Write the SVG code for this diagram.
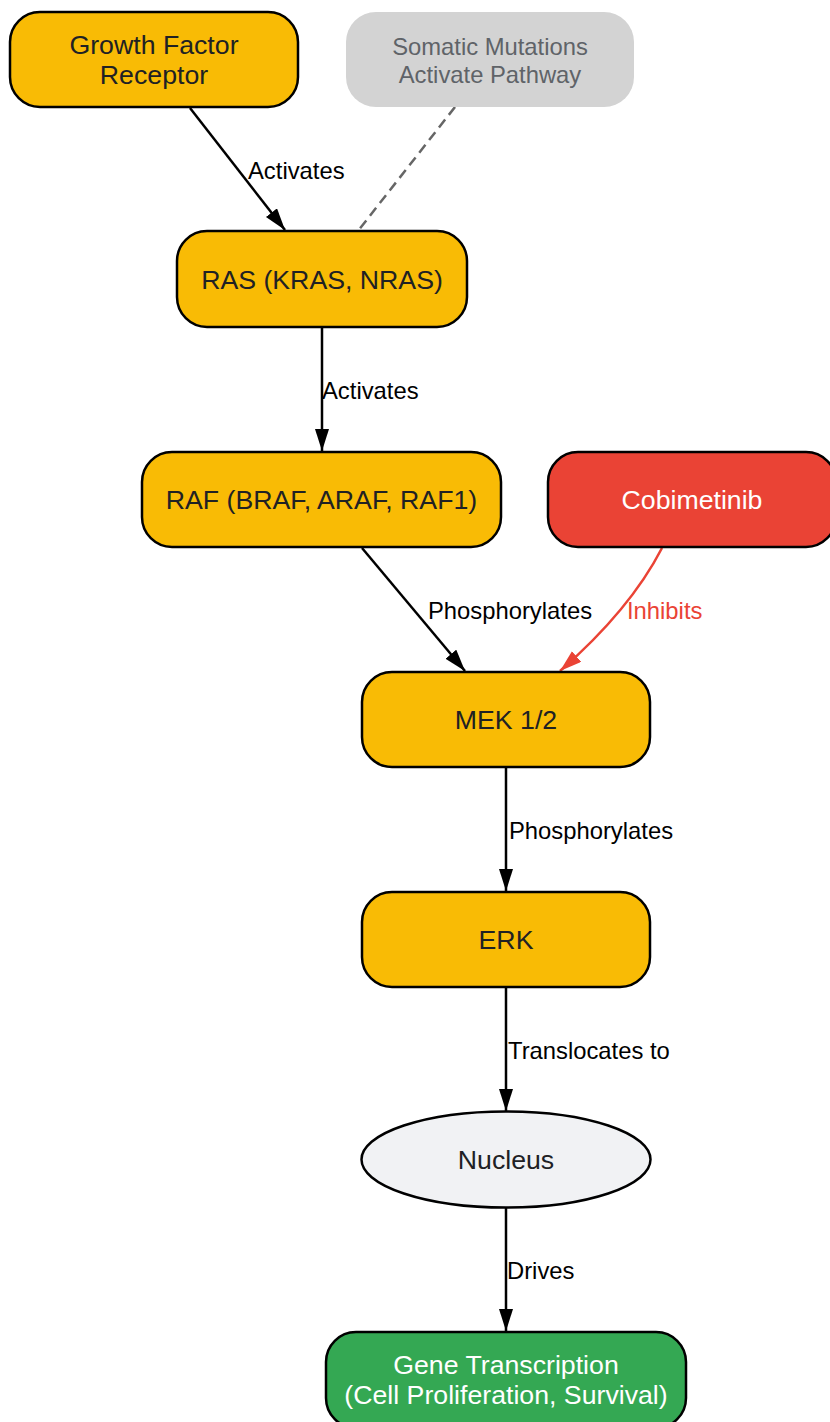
<svg xmlns="http://www.w3.org/2000/svg" width="830" height="1422" viewBox="0 0 830 1422">
<defs>
<style>
.node{stroke:#000;stroke-width:2.5}
.yellow{fill:#f9bb05}
.red{fill:#ea4335}
.green{fill:#34a853}
.gray{fill:#d3d3d3;stroke:none}
.nuc{fill:#f1f2f4}
.nt{font-family:"Liberation Sans",Arial,sans-serif;font-size:26.7px;fill:#202124;text-anchor:middle}
.wt{fill:#ffffff}
.st{font-family:"Liberation Sans",Arial,sans-serif;font-size:23.8px;fill:#5f6368;text-anchor:middle}
.el{font-family:"Liberation Sans",Arial,sans-serif;font-size:23.8px;fill:#000}
.edge{fill:none;stroke:#000;stroke-width:2.5}
.inh{fill:none;stroke:#ea4335;stroke-width:2.5}
.dash{fill:none;stroke:#666;stroke-width:2.5;stroke-dasharray:10,6}
</style>
<marker id="ab" markerUnits="userSpaceOnUse" markerWidth="24" markerHeight="16" refX="22" refY="7" orient="auto">
<path d="M0,0 L22,7 L0,14 z" fill="#000"/>
</marker>
<marker id="ar" markerUnits="userSpaceOnUse" markerWidth="24" markerHeight="16" refX="22" refY="7" orient="auto">
<path d="M0,0 L22,7 L0,14 z" fill="#ea4335"/>
</marker>
</defs>
<rect width="830" height="1422" fill="#ffffff"/>
<g id="connectors">
<path class="edge" d="M190,108 L285,230" marker-end="url(#ab)"/>
<text class="el" x="248" y="179">Activates</text>
<path class="dash" d="M455,107 L358,231"/>
<path class="edge" d="M322,327 L322,451" marker-end="url(#ab)"/>
<text class="el" x="322" y="399">Activates</text>
<path class="edge" d="M362,548 L465,671" marker-end="url(#ab)"/>
<text class="el" x="428" y="619">Phosphorylates</text>
<path class="inh" d="M662,548 Q630,610 560,671" marker-end="url(#ar)"/>
<text class="el" x="627" y="619" style="fill:#ea4335">Inhibits</text>
<path class="edge" d="M506,767 L506,891" marker-end="url(#ab)"/>
<text class="el" x="509" y="839">Phosphorylates</text>
<path class="edge" d="M506,988 L506,1111" marker-end="url(#ab)"/>
<text class="el" x="508" y="1059">Translocates to</text>
<path class="edge" d="M506,1208 L506,1331" marker-end="url(#ab)"/>
<text class="el" x="507" y="1279">Drives</text>
</g>
<g id="gfr">
<rect class="node yellow" x="10" y="12" width="288" height="95" rx="30"/>
<text class="nt" x="154" y="53.5">Growth Factor</text>
<text class="nt" x="154" y="84">Receptor</text>
</g>
<g id="somatic">
<rect class="gray" x="346" y="12" width="288" height="95" rx="30"/>
<text class="st" x="490" y="55">Somatic Mutations</text>
<text class="st" x="490" y="83">Activate Pathway</text>
</g>
<g id="ras">
<rect class="node yellow" x="177" y="231" width="290" height="96" rx="30"/>
<text class="nt" x="322" y="288.5">RAS (KRAS, NRAS)</text>
</g>
<g id="raf">
<rect class="node yellow" x="142" y="452" width="359" height="95" rx="30"/>
<text class="nt" x="321.5" y="509">RAF (BRAF, ARAF, RAF1)</text>
</g>
<g id="cobimetinib">
<rect class="node red" x="548" y="452" width="288" height="95" rx="30"/>
<text class="nt wt" x="692" y="509" style="fill:#ffffff">Cobimetinib</text>
</g>
<g id="mek">
<rect class="node yellow" x="362" y="672" width="288" height="95" rx="30"/>
<text class="nt" x="506" y="729">MEK 1/2</text>
</g>
<g id="erk">
<rect class="node yellow" x="362" y="892" width="288" height="95" rx="30"/>
<text class="nt" x="506" y="949">ERK</text>
</g>
<g id="nucleus">
<ellipse class="node nuc" cx="506" cy="1159.5" rx="144.5" ry="48"/>
<text class="nt" x="506" y="1169">Nucleus</text>
</g>
<g id="gene">
<rect class="node green" x="326" y="1332" width="360" height="96" rx="30"/>
<text class="nt wt" x="506" y="1373.5" style="fill:#ffffff">Gene Transcription</text>
<text class="nt wt" x="506" y="1403.5" style="fill:#ffffff">(Cell Proliferation, Survival)</text>
</g>
</svg>
